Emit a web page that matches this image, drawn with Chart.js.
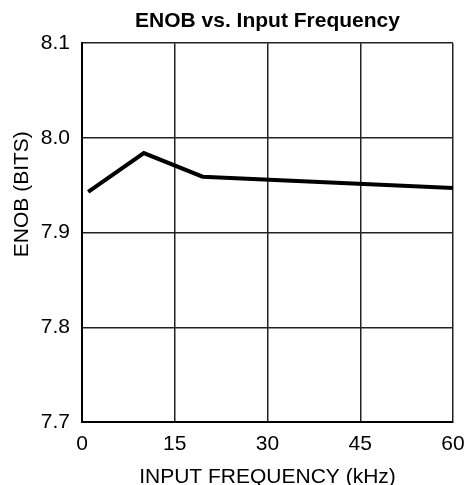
<!DOCTYPE html>
<html>
<head>
<meta charset="utf-8">
<script src="https://cdn.jsdelivr.net/npm/chart.js@4/dist/chart.umd.min.js"></script>
<style>
  html, body { margin: 0; padding: 0; background: #fff; }
  #wrap { width: 466px; height: 485px; }
</style>
</head>
<body>
<div id="wrap"><canvas id="c" width="466" height="485"></canvas></div>
<script>
const freqKHz = [1, 10, 19.5, 60];
const enobBits = [7.943, 7.984, 7.959, 7.947];
const xTicks = [0, 15, 30, 45, 60];
const yTicks = [7.7, 7.8, 7.9, 8.0, 8.1];
const chartTitle = 'ENOB vs. Input Frequency';
const xTitle = 'INPUT FREQUENCY (kHz)';
const yTitle = 'ENOB (BITS)';

const FONT = "'Liberation Sans', Arial, sans-serif";

const yTitlePlugin = {
  id: 'yTitle',
  afterDraw(chart) {
    const ctx = chart.ctx;
    const a = chart.chartArea;
    ctx.save();
    ctx.font = '21px ' + FONT;
    ctx.fillStyle = '#000';
    ctx.textAlign = 'center';
    ctx.textBaseline = 'middle';
    ctx.translate(22, a.top + 151);
    ctx.rotate(-Math.PI / 2);
    ctx.fillText(yTitle, 0, 0);
    ctx.restore();
  }
};

new Chart(document.getElementById('c'), {
  type: 'line',
  data: {
    datasets: [{
      data: freqKHz.map((x, i) => ({ x: x, y: enobBits[i] })),
      borderColor: '#000',
      borderWidth: 4,
      pointRadius: 0,
      tension: 0,
      fill: false
    }]
  },
  options: {
    responsive: false,
    animation: false,
    layout: { padding: { left: 0, right: 13, top: 0, bottom: 0 } },
    plugins: {
      legend: { display: false },
      tooltip: { enabled: false },
      title: {
        display: true,
        text: chartTitle,
        fullSize: false,
        color: '#000',
        font: { family: FONT, size: 21, weight: 'bold' },
        padding: { top: 9, bottom: 9 }
      }
    },
    scales: {
      x: {
        type: 'linear',
        min: 0, max: 60,
        afterBuildTicks(scale) { scale.ticks = xTicks.map(v => ({ value: v })); },
        afterFit(scale) { scale.height = 63; scale.paddingRight = 0; scale.paddingLeft = 0; },
        ticks: {
          color: '#000',
          font: { family: FONT, size: 21 },
          padding: 10,
          maxRotation: 0,
          callback: v => String(v)
        },
        grid: { color: '#222', lineWidth: 1.5, drawTicks: false },
        border: { color: '#000', width: 2 },
        title: {
          display: true,
          text: xTitle,
          color: '#000',
          font: { family: FONT, size: 21 },
          padding: { top: 4, bottom: -5 }
        }
      },
      y: {
        type: 'linear',
        min: 7.7, max: 8.1,
        afterBuildTicks(scale) { scale.ticks = yTicks.map(v => ({ value: v })); },
        afterFit(scale) { scale.width = 82; },
        ticks: {
          color: '#000',
          font: { family: FONT, size: 21 },
          padding: 12,
          callback: v => Number(v).toFixed(1)
        },
        grid: { color: '#222', lineWidth: 1.5, drawTicks: false },
        border: { color: '#000', width: 2 }
      }
    }
  },
  plugins: [yTitlePlugin]
});
</script>
</body>
</html>
